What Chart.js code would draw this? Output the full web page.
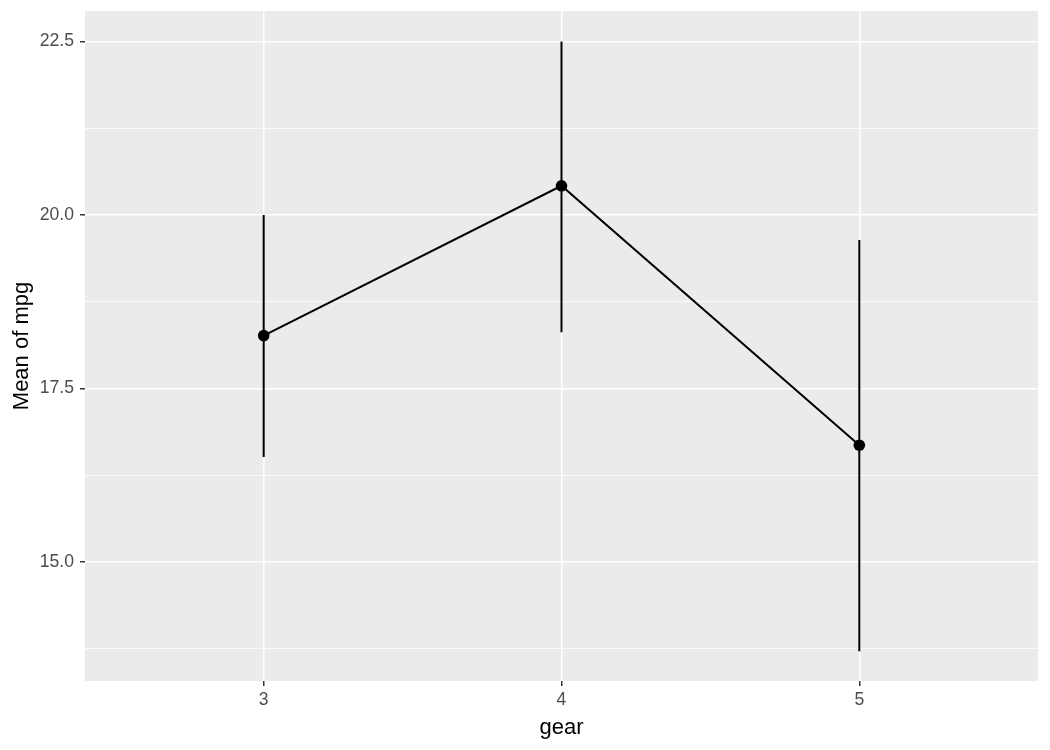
<!DOCTYPE html>
<html>
<head>
<meta charset="UTF-8">
<title>Mean of mpg by gear</title>
<script src="https://cdn.jsdelivr.net/npm/chart.js@4.4.1/dist/chart.umd.min.js"></script>
<style>
  body { margin: 0; background: #fff; }
  canvas { display: block; }
</style>
</head>
<body>
<canvas id="canvas" width="1050" height="750"></canvas>
<script>
// values
var gears = [3, 4, 5];
var meanMpg = [18.26, 20.42, 16.68];
var lowerCI = [16.51, 18.31, 13.71];
var upperCI = [20.0, 22.5, 19.64];
var yMajorTicks = [15.0, 17.5, 20.0, 22.5];
var yMinorTicks = [13.75, 16.25, 18.75, 21.25];

var meanPoints = gears.map(function (g, i) { return { x: g, y: meanMpg[i] }; });

// vertical bars, broken up with nulls
var barPoints = [];
gears.forEach(function (g, i) {
  barPoints.push({ x: g, y: lowerCI[i] });
  barPoints.push({ x: g, y: upperCI[i] });
  barPoints.push({ x: g, y: null });
});

function isMajor(v) {
  return yMajorTicks.some(function (t) { return Math.abs(t - v) < 1e-6; });
}

// grey panel behind the plot
var panelBg = {
  id: 'panelBg',
  beforeDraw: function (chart) {
    var a = chart.chartArea, ctx = chart.ctx;
    ctx.save();
    ctx.fillStyle = '#EBEBEB';
    ctx.fillRect(a.left, a.top, a.right - a.left, a.bottom - a.top);
    ctx.restore();
  }
};

var ctx = document.getElementById('canvas').getContext('2d');
new Chart(ctx, {
  type: 'line',
  data: {
    datasets: [
      {
        label: 'ci',
        data: barPoints,
        borderColor: '#000',
        borderWidth: 2,
        pointRadius: 0,
        spanGaps: false,
        fill: false
      },
      {
        label: 'mean',
        data: meanPoints,
        borderColor: '#000',
        backgroundColor: '#000',
        borderWidth: 2,
        pointRadius: 5.8,
        pointBorderWidth: 0,
        fill: false,
        tension: 0
      }
    ]
  },
  options: {
    responsive: false,
    animation: false,
    devicePixelRatio: 1,
    layout: { padding: { top: 11, right: 12, bottom: 0, left: 0 } },
    plugins: { legend: { display: false }, tooltip: { enabled: false } },
    scales: {
      x: {
        type: 'linear',
        min: 2.4,
        max: 5.6,
        afterBuildTicks: function (scale) {
          scale.ticks = gears.map(function (g) { return { value: g }; });
        },
        afterFit: function (scale) {
          scale.height = 69;
          scale.paddingLeft = 0;
          scale.paddingRight = 0;
        },
        border: { display: false },
        grid: {
          color: '#FFFFFF',
          lineWidth: 1.5,
          drawTicks: true,
          tickLength: 5,
          tickColor: '#333333',
          tickWidth: 1.5
        },
        ticks: {
          color: '#4D4D4D',
          font: { family: 'Liberation Sans', size: 17.6 },
          padding: 4,
          callback: function (v) { return String(v); }
        },
        title: {
          display: true,
          text: 'gear',
          color: '#000',
          font: { family: 'Liberation Sans', size: 22 },
          padding: { top: 0, bottom: 9 }
        }
      },
      y: {
        min: 13.28,
        max: 22.94,
        afterBuildTicks: function (scale) {
          scale.ticks = yMinorTicks.concat(yMajorTicks)
            .sort(function (a, b) { return a - b; })
            .map(function (v) { return { value: v }; });
        },
        afterFit: function (scale) {
          scale.width = 85;
          scale.paddingTop = 0;
          scale.paddingBottom = 0;
        },
        border: { display: false },
        grid: {
          color: '#FFFFFF',
          lineWidth: function (c) { return isMajor(c.tick.value) ? 1.5 : 0.8; },
          drawTicks: true,
          tickLength: 5,
          tickColor: function (c) { return isMajor(c.tick.value) ? '#333333' : 'rgba(0,0,0,0)'; },
          tickWidth: 1.5
        },
        ticks: {
          color: '#4D4D4D',
          font: { family: 'Liberation Sans', size: 17.6 },
          padding: 6,
          callback: function (v) { return isMajor(v) ? v.toFixed(1) : ''; }
        },
        title: {
          display: true,
          text: 'Mean of mpg',
          color: '#000',
          font: { family: 'Liberation Sans', size: 22 },
          padding: { top: 9, bottom: 0 }
        }
      }
    }
  },
  plugins: [panelBg]
});
</script>
</body>
</html>
